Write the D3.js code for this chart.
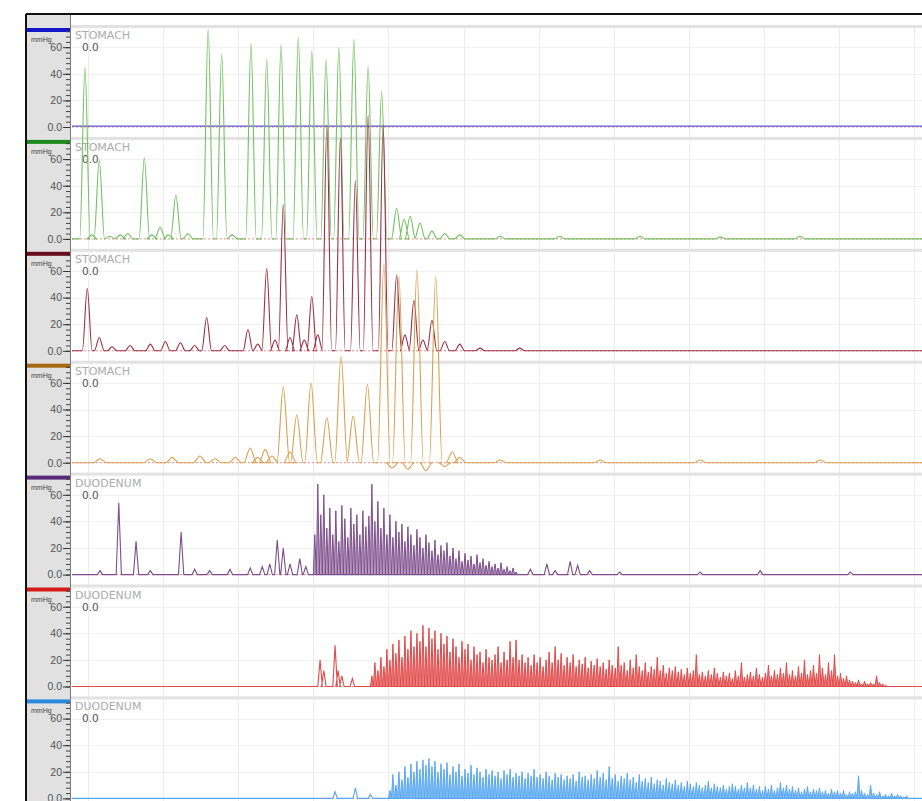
<!DOCTYPE html>
<html>
<head>
<meta charset="utf-8">
<script src="https://cdn.jsdelivr.net/npm/d3@7"></script>
<style>
  body { margin: 0; background: #fff; }
  svg { display: block; }
</style>
</head>
<body>
<div class="chart"></div>
<script>
// time window shown (seconds), grid every 10 s
var timeStart = 57.87, timeEnd = 171.05;
var gridTimes = [60, 70, 80, 90, 100, 110, 120, 130, 140, 150, 160, 170];
var yTicksMajor = [0, 20, 40, 60];
var yTickLabels = ["0.0", "20", "40", "60"];

var channelNames = ["STOMACH", "STOMACH", "STOMACH", "STOMACH", "DUODENUM", "DUODENUM", "DUODENUM"];

// isolated pressure waves: [time s, mmHg]
var ch1Peaks = [];
var ch2Peaks = [[59.6, 129], [60.5, 3], [61.5, 59], [62.9, 2], [64.3, 3], [65.3, 4], [67.5, 61], [68.5, 3],
  [69.6, 9], [70.7, 3], [71.7, 33], [73.3, 4], [76.0, 158], [77.8, 139], [79.2, 3], [81.7, 147],
  [83.8, 135], [85.7, 146], [88.0, 152], [89.8, 141], [91.7, 135], [93.4, 144], [95.4, 150],
  [97.3, 130], [99.1, 111], [101.1, 23], [102.1, 15], [102.9, 17], [104.2, 12], [105.8, 6],
  [107.5, 4], [109.5, 3], [114.9, 2], [122.8, 2], [133.5, 2], [144.2, 1.5], [154.8, 2]];
var ch3Peaks = [[59.9, 47], [61.5, 10], [63.2, 3], [65.6, 4], [68.3, 5], [70.3, 7], [72.3, 6], [74.2, 4],
  [75.8, 25], [78.2, 4], [81.3, 16], [82.6, 5], [83.8, 62], [84.9, 8], [86.0, 110], [86.9, 10],
  [87.8, 27], [88.8, 8], [89.8, 41], [90.6, 12], [91.8, 170], [93.6, 160], [95.6, 128], [97.3, 177],
  [99.3, 170], [101.1, 57], [102.2, 12], [103.4, 38], [104.6, 8], [105.8, 23], [107.5, 7],
  [109.5, 5], [112.2, 2], [117.5, 2]];
var ch4Peaks = [[61.6, 3], [68.3, 3], [71.2, 4], [74.9, 5], [76.9, 3], [79.6, 4], [81.6, 11], [82.6, 4],
  [83.6, 10], [84.5, 5], [86.0, 57], [86.9, 8], [87.8, 36], [89.7, 60], [91.8, 34], [93.7, 80],
  [95.3, 35], [97.2, 59], [99.4, 150], [100.5, -4], [101.4, 140], [102.6, -5], [103.8, 145],
  [105.0, -6], [106.3, 140], [107.5, -3], [108.5, 8], [109.5, 4], [114.9, 2], [128.2, 2],
  [141.5, 2], [157.5, 2]];
var ch5Peaks = [[61.6, 3], [64.1, 54], [66.4, 25], [68.3, 3], [72.4, 32], [74.2, 4], [76.2, 3], [78.9, 4],
  [81.6, 5], [83.2, 6], [84.2, 8], [85.2, 26], [86.0, 20], [86.9, 8], [88.2, 12], [89.0, 6],
  [118.9, 4], [121.1, 8], [122.2, 3], [124.2, 10], [125.2, 7], [126.8, 3], [130.8, 2],
  [141.5, 2], [149.5, 3], [161.5, 2]];
var ch6Peaks = [[90.9, 20], [91.4, 12], [92.9, 31], [93.3, 12], [93.8, 8], [95.2, 6]];
var ch7Peaks = [[92.9, 5], [95.6, 8], [97.6, 3]];

// dense duodenal spike trains, one value every 0.4 s
var denseStep = 0.4;
var ch5DenseStart = 90.2;
var ch5Dense = [30, 68, 45, 60, 35, 50, 30, 48, 25, 52, 42, 28, 50, 38, 45, 30, 48, 36, 44, 68,
  40, 55, 35, 50, 30, 45, 28, 40, 32, 38, 25, 36, 30, 22, 34, 28, 20, 30, 24, 18, 26, 15, 22, 18,
  24, 14, 20, 12, 18, 10, 16, 11, 14, 8, 15, 9, 12, 7, 10, 6, 8, 5, 9, 4, 6, 3, 5, 2];
var ch6DenseStart = 97.8;
var ch6Dense = [8, 18, 12, 22, 15, 28, 20, 32, 25, 35, 22, 38, 28, 42, 30, 40, 34, 46, 30, 44, 36,
  42, 28, 40, 32, 38, 26, 36, 30, 22, 34, 28, 32, 20, 30, 24, 26, 18, 28, 22, 20, 24, 30, 18, 26, 20,
  34, 22, 35, 20, 24, 18, 22, 16, 24, 18, 22, 15, 20, 26, 18, 30, 20, 25, 16, 22, 18, 24, 15, 20, 17,
  22, 14, 19, 16, 21, 15, 18, 13, 20, 16, 14, 30, 16, 18, 12, 20, 14, 24, 15, 12, 18, 11, 15, 13, 22,
  12, 16, 10, 14, 12, 15, 11, 13, 9, 14, 10, 12, 24, 9, 11, 8, 12, 9, 14, 10, 7, 11, 8, 10, 6,
  12, 8, 18, 7, 9, 11, 8, 14, 9, 7, 10, 16, 8, 12, 9, 14, 10, 18, 9, 12, 8, 15, 10, 20, 9,
  12, 16, 10, 24, 14, 9, 18, 12, 24, 8, 10, 6, 8, 5, 4, 3, 5, 2, 4, 2, 3, 2, 8, 3, 2, 1];
var ch7DenseStart = 100.2;
var ch7Dense = [6, 18, 10, 20, 14, 24, 16, 26, 20, 28, 22, 29, 25, 30, 24, 28, 20, 26, 22, 27,
  18, 24, 20, 26, 17, 22, 19, 25, 18, 23, 20, 16, 22, 18, 21, 17, 20, 15, 21, 18, 22, 16, 19, 17, 20,
  15, 19, 17, 22, 16, 18, 15, 20, 17, 14, 19, 16, 18, 14, 17, 15, 18, 13, 20, 16, 17, 14, 18, 15, 21,
  16, 19, 14, 24, 15, 18, 13, 17, 15, 19, 14, 16, 12, 18, 13, 15, 12, 16, 11, 14, 13, 10, 15, 12, 11,
  14, 10, 12, 9, 13, 11, 9, 12, 10, 8, 10, 13, 8, 11, 9, 8, 10, 7, 9, 11, 9, 7, 10, 8, 12,
  8, 10, 7, 9, 6, 9, 7, 10, 6, 8, 12, 8, 10, 7, 9, 6, 8, 5, 7, 9, 5, 7, 6, 8, 5,
  6, 4, 7, 5, 6, 4, 6, 3, 5, 4, 5, 17, 6, 4, 3, 10, 4, 3, 5, 2, 3, 2, 4, 2, 3, 2, 1, 2];

var ch1Level = 0.6;

var traceColors = ["#5b52d6", "#74c062", "#9a3048", "#d9a04e", "#7d4f8c", "#e24a4a", "#5aa8f2"];
var barColors = ["#1414c8", "#1d8a1d", "#6a0c1e", "#a86a10", "#5a2a7a", "#d41a1a", "#2a8ae0"];
var peakHalfWidth = [0.6, 0.7, 0.65, 0.85, 0.35, 0.3, 0.3];
var denseFill = [0, 0, 0, 0, 0.55, 0.7, 0.75];

var allPeaks = [ch1Peaks, ch2Peaks, ch3Peaks, ch4Peaks, ch5Peaks, ch6Peaks, ch7Peaks];
var allDense = [null, null, null, null,
  {start: ch5DenseStart, values: ch5Dense},
  {start: ch6DenseStart, values: ch6Dense},
  {start: ch7DenseStart, values: ch7Dense}];

var width = 922, height = 801;
var plotLeft = 71, plotRight = 922;
var panelTop0 = 27, panelStep = 111.9, baseOffset = 100;

var svg = d3.select(".chart").append("svg")
    .attr("width", width)
    .attr("height", height)
    .style("font-family", "'Liberation Sans', Arial, sans-serif");

var x = d3.scaleLinear().domain([timeStart, timeEnd]).range([plotLeft + 1, plotRight]);

// left ruler column
svg.append("rect").attr("x", 27).attr("y", 15).attr("width", 44).attr("height", height - 15).attr("fill", "#e1e1e1");

// vertical grid
svg.append("g").selectAll("line")
    .data(gridTimes)
    .enter().append("line")
    .attr("x1", d => Math.round(x(d)) + 0.5).attr("x2", d => Math.round(x(d)) + 0.5)
    .attr("y1", 28).attr("y2", height)
    .attr("stroke", "#ececec").attr("stroke-width", 1);

var panels = [];
for (var i = 0; i < 7; i++) {
    var pTop = panelTop0 + i * panelStep;
    var pBase = pTop + baseOffset;
    var y = d3.scaleLinear().domain([0, 75]).range([pBase, pBase - 99.75]);
    panels.push({top: pTop, y: y});

    var g = svg.append("g");

    // panel separator
    g.append("rect").attr("x", plotLeft).attr("y", pTop - 2).attr("width", plotRight - plotLeft).attr("height", 3)
        .attr("fill", "#e2e2e2");
    // channel colour bar
    g.append("rect").attr("x", 27).attr("y", pTop + 1).attr("width", 43).attr("height", 4).attr("fill", barColors[i]);

    // faint horizontal grid
    g.selectAll(".hg").data([20, 40, 60]).enter().append("line")
        .attr("x1", plotLeft).attr("x2", plotRight)
        .attr("y1", d => Math.round(y(d)) + 0.5).attr("y2", d => Math.round(y(d)) + 0.5)
        .attr("stroke", "#f1f1f1");

    // ruler: minor + major ticks
    var minor = g.append("g").attr("transform", "translate(70,0)")
        .call(d3.axisLeft(y).tickValues(d3.range(0, 73, 4)).tickSize(4).tickFormat(""));
    minor.select(".domain").remove();
    minor.selectAll("line").attr("stroke", "#444");

    var major = g.append("g").attr("transform", "translate(70,0)")
        .call(d3.axisLeft(y).tickValues(yTicksMajor).tickSize(7).tickPadding(1)
            .tickFormat((d, k) => yTickLabels[k]));
    major.select(".domain").remove();
    major.selectAll("line").attr("stroke", "#333");
    major.selectAll("text").attr("fill", "#555").attr("font-size", "10.5px")
        .style("font-family", "'Liberation Sans', Arial, sans-serif");

    g.append("text").attr("x", 31).attr("y", pTop + 15).text("mmHg")
        .attr("font-size", "7px").attr("fill", "#444");

    g.append("text").attr("x", 75).attr("y", pTop + 12).text(channelNames[i])
        .attr("font-size", "11px").attr("fill", "#ababab")
        .style("font-family", "'DejaVu Sans', sans-serif");
    g.append("text").attr("x", 82).attr("y", pTop + 24).text("0.0")
        .attr("font-size", "10.5px").attr("fill", "#555")
        .style("font-family", "'DejaVu Sans', sans-serif");

    // zero reference
    g.append("line").attr("x1", plotLeft + 1).attr("x2", plotRight)
        .attr("y1", y(0)).attr("y2", y(0))
        .attr("stroke", "#f08a8a").attr("stroke-dasharray", "2,2");
}

// column border
svg.append("line").attr("x1", 70.5).attr("x2", 70.5).attr("y1", 15).attr("y2", height).attr("stroke", "#7a7a7a");

// outer frame
svg.append("line").attr("x1", 26).attr("x2", width).attr("y1", 14).attr("y2", 14).attr("stroke", "#111").attr("stroke-width", 2);
svg.append("line").attr("x1", 26).attr("x2", 26).attr("y1", 14).attr("y2", height).attr("stroke", "#111").attr("stroke-width", 2);

svg.append("clipPath").attr("id", "plotclip").append("rect")
    .attr("x", plotLeft + 1).attr("y", 29).attr("width", plotRight - plotLeft).attr("height", height - 29);

function peakPoints(i) {
    var pts = [[timeStart, 0]];
    var hw = peakHalfWidth[i];
    allPeaks[i].forEach(function (p) {
        pts.push([p[0] - hw, 0], [p[0], p[1]], [p[0] + hw, 0]);
    });
    pts.push([timeEnd, 0]);
    return pts;
}

function densePoints(i) {
    var dense = allDense[i];
    var pts = [[dense.start - denseStep / 2, 0]];
    dense.values.forEach(function (v, k) {
        var t = dense.start + k * denseStep;
        pts.push([t, v], [t + denseStep / 2, 0]);
    });
    return pts;
}

var traces = svg.append("g").attr("clip-path", "url(#plotclip)");

// channel 1: flat line
traces.append("path")
    .datum([[timeStart, ch1Level], [timeEnd, ch1Level]])
    .attr("fill", "none").attr("stroke", traceColors[0]).attr("stroke-width", 1.2)
    .attr("d", d3.line().x(d => x(d[0])).y(d => panels[0].y(d[1])));

for (var c = 1; c < 7; c++) {
    (function (c) {
        var smooth = d3.line().x(d => x(d[0])).y(d => panels[c].y(d[1])).curve(d3.curveMonotoneX);
        var sharp = d3.line().x(d => x(d[0])).y(d => panels[c].y(d[1]));
        var cg = traces.append("g");
        cg.append("path")
            .datum(peakPoints(c))
            .attr("fill", "none")
            .attr("stroke", traceColors[c])
            .attr("stroke-width", 1.1)
            .attr("d", c < 4 ? smooth : sharp);
        if (allDense[c]) {
            cg.append("path")
                .datum(densePoints(c))
                .attr("fill", traceColors[c])
                .attr("fill-opacity", denseFill[c])
                .attr("stroke", traceColors[c])
                .attr("stroke-width", 1)
                .attr("stroke-linejoin", "round")
                .attr("d", sharp);
        }
    })(c);
}
</script>
</body>
</html>
